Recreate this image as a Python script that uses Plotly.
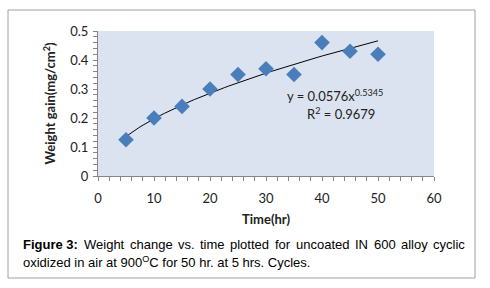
import plotly.graph_objects as go
import numpy as np

time_hr = [5, 10, 15, 20, 25, 30, 35, 40, 45, 50]
weight_gain = [0.125, 0.20, 0.24, 0.30, 0.35, 0.37, 0.35, 0.46, 0.43, 0.42]
fit_a = 0.0576
fit_b = 0.5345
fit_r2 = 0.9679
x_ticks = [0, 10, 20, 30, 40, 50, 60]
y_ticks = [0, 0.1, 0.2, 0.3, 0.4, 0.5]
caption_words = ["Figure 3:", "Weight", "change", "vs.", "time", "plotted", "for",
                 "uncoated", "IN", "600", "alloy", "cyclic"]
caption_line2 = "oxidized in air at 900<sup>O</sup>C for 50 hr. at 5 hrs. Cycles."

W, H = 490, 288
L, R, T, B = 98, 434, 31, 176

def px(x):
    return (x - L) / (R - L)

def py(y):
    return (B - y) / (B - T)

tx = np.linspace(min(time_hr), max(time_hr), 60)
ty = fit_a * tx ** fit_b

fig = go.Figure()
fig.add_trace(go.Scatter(x=tx, y=ty, mode="lines", line=dict(color="black", width=1), hoverinfo="skip"))
fig.add_trace(go.Scatter(x=time_hr, y=weight_gain, mode="markers",
                         marker=dict(symbol="diamond", size=12, color="#4A7EBB")))

axis_font = dict(family="Lato, Calibri, sans-serif", size=13, color="#222")
fig.update_layout(
    width=W, height=H, showlegend=False,
    margin=dict(l=L, r=W - R, t=T, b=H - B),
    paper_bgcolor="white", plot_bgcolor="#DCE3F0",
    font=axis_font,
    xaxis=dict(range=[0, 60], tickvals=x_ticks, showgrid=False, zeroline=False,
               showline=True, linecolor="#868686", linewidth=1,
               ticks="outside", ticklen=4, tickcolor="#868686",
               minor=dict(dtick=2, ticks="outside", ticklen=4, tickcolor="#868686"),
               tickfont=axis_font, ticklabelstandoff=6,
               title=dict(text="<b>Time(hr)</b>", font=axis_font, standoff=10)),
    yaxis=dict(range=[0, 0.5], tickvals=y_ticks, tickformat="~g", showgrid=False, zeroline=False,
               showline=True, linecolor="#868686", linewidth=1,
               ticks="outside", ticklen=4, tickcolor="#868686",
               minor=dict(dtick=0.02, ticks="outside", ticklen=4, tickcolor="#868686"),
               tickfont=axis_font, ticklabelstandoff=2,
               title=dict(text="<b>Weight gain(mg/cm<sup>2</sup>)</b>", font=axis_font, standoff=11)),
)

# equation labels
eq_font = dict(family="Lato", size=13, color="#222")
fig.add_annotation(x=px(335), y=py(95), xref="paper", yref="paper", showarrow=False,
                   xanchor="center", yanchor="middle",
                   text=f"y = {fit_a}x<sup>{fit_b}</sup>", font=eq_font)
fig.add_annotation(x=px(341), y=py(113), xref="paper", yref="paper", showarrow=False,
                   xanchor="center", yanchor="middle",
                   text=f"R<sup>2</sup> = {fit_r2}", font=eq_font)

# frame
fig.add_shape(type="rect", xref="paper", yref="paper",
              x0=px(8), x1=px(475), y0=py(10), y1=py(278),
              line=dict(color="#A0A0A0", width=1), fillcolor="rgba(0,0,0,0)", layer="above")

# caption (justified first line, Arial metrics)
ARIAL = {" ": 278, "F": 611, "i": 222, "g": 556, "u": 556, "r": 333, "e": 556, "3": 556, ":": 278,
         "W": 944, "h": 556, "t": 278, "c": 500, "a": 556, "n": 556, "v": 500, "s": 500, ".": 278,
         "m": 833, "p": 556, "l": 222, "o": 556, "d": 556, "f": 278, "I": 278, "N": 722, "6": 556,
         "0": 556, "y": 500}
ARIAL_B = {"F": 611, "i": 278, "g": 611, "u": 611, "r": 389, "e": 556, " ": 278, "3": 556, ":": 333}
fs = 13
def width(s, bold=False):
    tbl = ARIAL_B if bold else ARIAL
    return sum(tbl.get(ch, 556) for ch in s) * fs / 1000

cap_font = dict(family="Liberation Sans, Arial", size=fs, color="black")
left, right = 21, 463
widths = [width(w, i == 0) for i, w in enumerate(caption_words)]
gap = (right - left - sum(widths)) / (len(caption_words) - 1)
xpos = left
for i, w in enumerate(caption_words):
    txt = f"<b>{w}</b>" if i == 0 else w
    fig.add_annotation(x=px(xpos), y=py(244), xref="paper", yref="paper", showarrow=False,
                       xanchor="left", yanchor="middle", text=txt, font=cap_font)
    xpos += widths[i] + gap
fig.add_annotation(x=px(left), y=py(262), xref="paper", yref="paper", showarrow=False,
                   xanchor="left", yanchor="middle", text=caption_line2, font=cap_font)

fig.write_html("out.html", config={"displayModeBar": False},
               post_script="document.body.style.margin='0';")
